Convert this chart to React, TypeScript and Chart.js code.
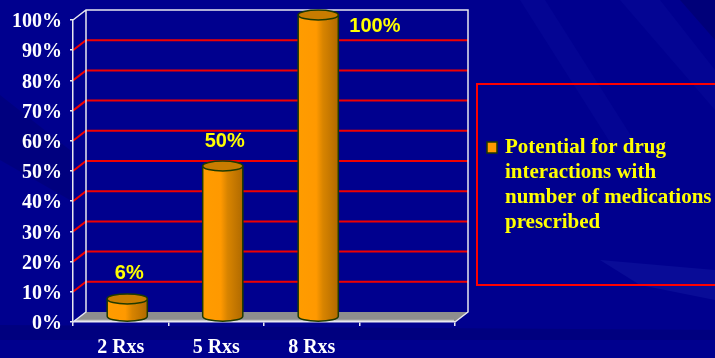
import React, { useEffect, useRef } from 'react';
import { Chart, registerables } from 'chart.js';

Chart.register(...registerables);

// ---- data ----
const categories: string[] = ['2 Rxs', '5 Rxs', '8 Rxs', ''];
const seriesValues: (number | null)[] = [6, 50, 100, null];
const seriesName: string[] = ['Potential for drug', 'interactions with', 'number of medications', 'prescribed'];
const yMin = 0;
const yMax = 100;
const yStep = 10;

// ---- style ----
const DX = 13;
const DY = -10;
const BG = '#00008E';
const GRID_RED = '#F00000';
const EDGE = '#E8E8F0';
const ORANGE = '#FF9900';
const OUTLINE = '#1E3A00';

const backdrop = {
  id: 'backdrop3d',
  beforeDraw(chart: any) {
    const { ctx, chartArea: a, width, height } = chart;
    const ys = chart.scales.y;
    ctx.save();
    ctx.fillStyle = BG;
    ctx.fillRect(0, 0, width, height);
    // subtle diagonal streaks
    const streak = (pts: number[][], color: string) => {
      ctx.beginPath();
      ctx.moveTo(pts[0][0], pts[0][1]);
      for (let i = 1; i < pts.length; i++) ctx.lineTo(pts[i][0], pts[i][1]);
      ctx.closePath();
      ctx.fillStyle = color;
      ctx.fill();
    };
    streak([[520, 0], [545, 0], [640, 150], [615, 150]], 'rgba(30,40,190,0.12)');
    streak([[620, 0], [660, 0], [715, 70], [715, 110]], 'rgba(30,40,190,0.12)');
    streak([[680, 0], [715, 0], [715, 40]], 'rgba(0,0,60,0.25)');
    streak([[0, 95], [70, 150], [70, 200], [0, 160]], 'rgba(0,0,60,0.18)');
    streak([[600, 260], [715, 270], [715, 300], [640, 285]], 'rgba(60,80,210,0.15)');
    streak([[0, 325], [715, 330], [715, 340], [0, 340]], 'rgba(0,0,60,0.18)');

    const topY = ys.getPixelForValue(yMax);
    const botY = ys.getPixelForValue(yMin);

    // floor
    ctx.beginPath();
    ctx.moveTo(a.left, botY);
    ctx.lineTo(a.right, botY);
    ctx.lineTo(a.right + DX, botY + DY);
    ctx.lineTo(a.left + DX, botY + DY);
    ctx.closePath();
    ctx.fillStyle = '#8E8E8E';
    ctx.fill();
    ctx.beginPath();
    ctx.moveTo(a.left + 2, botY - 1.5);
    ctx.lineTo(a.right - 1, botY - 1.5);
    ctx.strokeStyle = '#C8C8C8';
    ctx.lineWidth = 1.5;
    ctx.stroke();

    // grid lines on back wall with connectors
    ctx.strokeStyle = GRID_RED;
    ctx.lineWidth = 2;
    ys.ticks.forEach((t: any) => {
      if (t.value === yMin || t.value === yMax) return;
      const py = ys.getPixelForValue(t.value);
      ctx.beginPath();
      ctx.moveTo(a.left, py);
      ctx.lineTo(a.left + DX, py + DY);
      ctx.lineTo(a.right + DX, py + DY);
      ctx.stroke();
    });

    // wall edges
    ctx.strokeStyle = EDGE;
    ctx.lineWidth = 1.5;
    ctx.beginPath();
    ctx.moveTo(a.left, topY);
    ctx.lineTo(a.left + DX, topY + DY);
    ctx.lineTo(a.right + DX, topY + DY);
    ctx.lineTo(a.right + DX, botY + DY);
    ctx.lineTo(a.right, botY);
    ctx.moveTo(a.left + DX, topY + DY);
    ctx.lineTo(a.left + DX, botY + DY);
    ctx.lineTo(a.left, botY);
    ctx.stroke();
    ctx.restore();
  },
};

const cylinders = {
  id: 'cylinders',
  afterDatasetsDraw(chart: any) {
    const { ctx, chartArea: a } = chart;
    const meta = chart.getDatasetMeta(0);
    ctx.save();
    meta.data.forEach((el: any, i: number) => {
      const v = seriesValues[i];
      if (v == null) return;
      const p = el.getProps(['x', 'y', 'base', 'width'], true);
      const cx = p.x + DX / 2;
      const top = p.y + DY / 2;
      const bot = p.base + DY / 2;
      const rx = p.width / 2;
      const ry = 5;
      const g = ctx.createLinearGradient(cx - rx, 0, cx + rx, 0);
      g.addColorStop(0, '#FF9C00');
      g.addColorStop(0.45, '#FF9900');
      g.addColorStop(0.62, '#D88400');
      g.addColorStop(1, '#B06A00');
      ctx.beginPath();
      ctx.moveTo(cx - rx, top);
      ctx.lineTo(cx - rx, bot);
      ctx.ellipse(cx, bot, rx, ry, 0, Math.PI, 0, true);
      ctx.lineTo(cx + rx, top);
      ctx.closePath();
      ctx.fillStyle = g;
      ctx.fill();
      ctx.strokeStyle = OUTLINE;
      ctx.lineWidth = 1.5;
      ctx.stroke();
      ctx.beginPath();
      ctx.ellipse(cx, top, rx, ry, 0, 0, Math.PI * 2);
      ctx.fillStyle = '#C87C00';
      ctx.fill();
      ctx.stroke();

      // value label
      ctx.font = 'bold 20px "Liberation Sans", Arial, sans-serif';
      ctx.fillStyle = '#FFFF00';
      ctx.textBaseline = 'middle';
      const text = v + '%';
      const ly = top - 25;
      if (ly < a.top) {
        ctx.textAlign = 'left';
        ctx.fillText(text, cx + rx + 11, top + 11);
      } else {
        ctx.textAlign = 'center';
        ctx.fillText(text, cx + 2, ly);
      }
    });
    ctx.restore();
  },
};

const legendBox = {
  id: 'legendBox',
  afterDraw(chart: any) {
    const { ctx, chartArea: a } = chart;
    const left = a.right + 22;
    const top = 84;
    ctx.save();
    ctx.strokeStyle = '#FF0000';
    ctx.lineWidth = 2;
    ctx.strokeRect(left, top, 260, 201);
    ctx.fillStyle = ORANGE;
    ctx.fillRect(left + 10, top + 58, 10, 11);
    ctx.strokeStyle = OUTLINE;
    ctx.lineWidth = 1.5;
    ctx.strokeRect(left + 10, top + 58, 10, 11);
    ctx.font = 'bold 21px "Liberation Serif", "Times New Roman", serif';
    ctx.fillStyle = '#FFFF00';
    ctx.textAlign = 'left';
    ctx.textBaseline = 'alphabetic';
    seriesName.forEach((line, i) => {
      ctx.fillText(line, left + 28, top + 69 + i * 25);
    });
    ctx.restore();
  },
};

export default function App() {
  const ref = useRef<HTMLCanvasElement | null>(null);
  useEffect(() => {
    if (!ref.current) return;
    const chart = new Chart(ref.current, {
      type: 'bar',
      data: {
        labels: categories,
        datasets: [
          {
            label: seriesName.join(' '),
            data: seriesValues,
            backgroundColor: 'rgba(0,0,0,0)',
            borderWidth: 0,
            barPercentage: 0.42,
            categoryPercentage: 1,
          },
        ],
      },
      options: {
        responsive: false,
        animation: false,
        devicePixelRatio: 1,
        layout: { padding: { top: 20, right: 260, left: 0, bottom: 0 } },
        plugins: {
          legend: { display: false },
          tooltip: { enabled: false },
        },
        scales: {
          x: {
            grid: { drawOnChartArea: false, drawTicks: true, tickLength: 4, color: EDGE, lineWidth: 1.5 },
            border: { color: EDGE, width: 1.5 },
            ticks: {
              color: '#FFFFFF',
              font: { family: '"Liberation Serif", "Times New Roman", serif', size: 20, weight: 'bold' },
              padding: 10,
            },
            afterFit: (s: any) => { s.height = 36; },
          },
          y: {
            min: yMin,
            max: yMax,
            grid: { drawOnChartArea: false, drawTicks: true, tickLength: 3, color: EDGE, lineWidth: 1.5 },
            border: { color: EDGE, width: 1.5 },
            ticks: {
              stepSize: yStep,
              color: '#FFFFFF',
              font: { family: '"Liberation Serif", "Times New Roman", serif', size: 20, weight: 'bold' },
              padding: 8,
              labelOffset: 2,
              callback: (v: any) => v + '%',
            },
            afterFit: (s: any) => { s.width = 73; },
          },
        },
      },
      plugins: [backdrop, cylinders, legendBox],
    });
    return () => chart.destroy();
  }, []);
  return (
    <div style={{ position: 'fixed', left: 0, top: 0, width: 715, height: 358 }}>
      <canvas ref={ref} width={715} height={358} style={{ display: 'block' }} />
    </div>
  );
}
